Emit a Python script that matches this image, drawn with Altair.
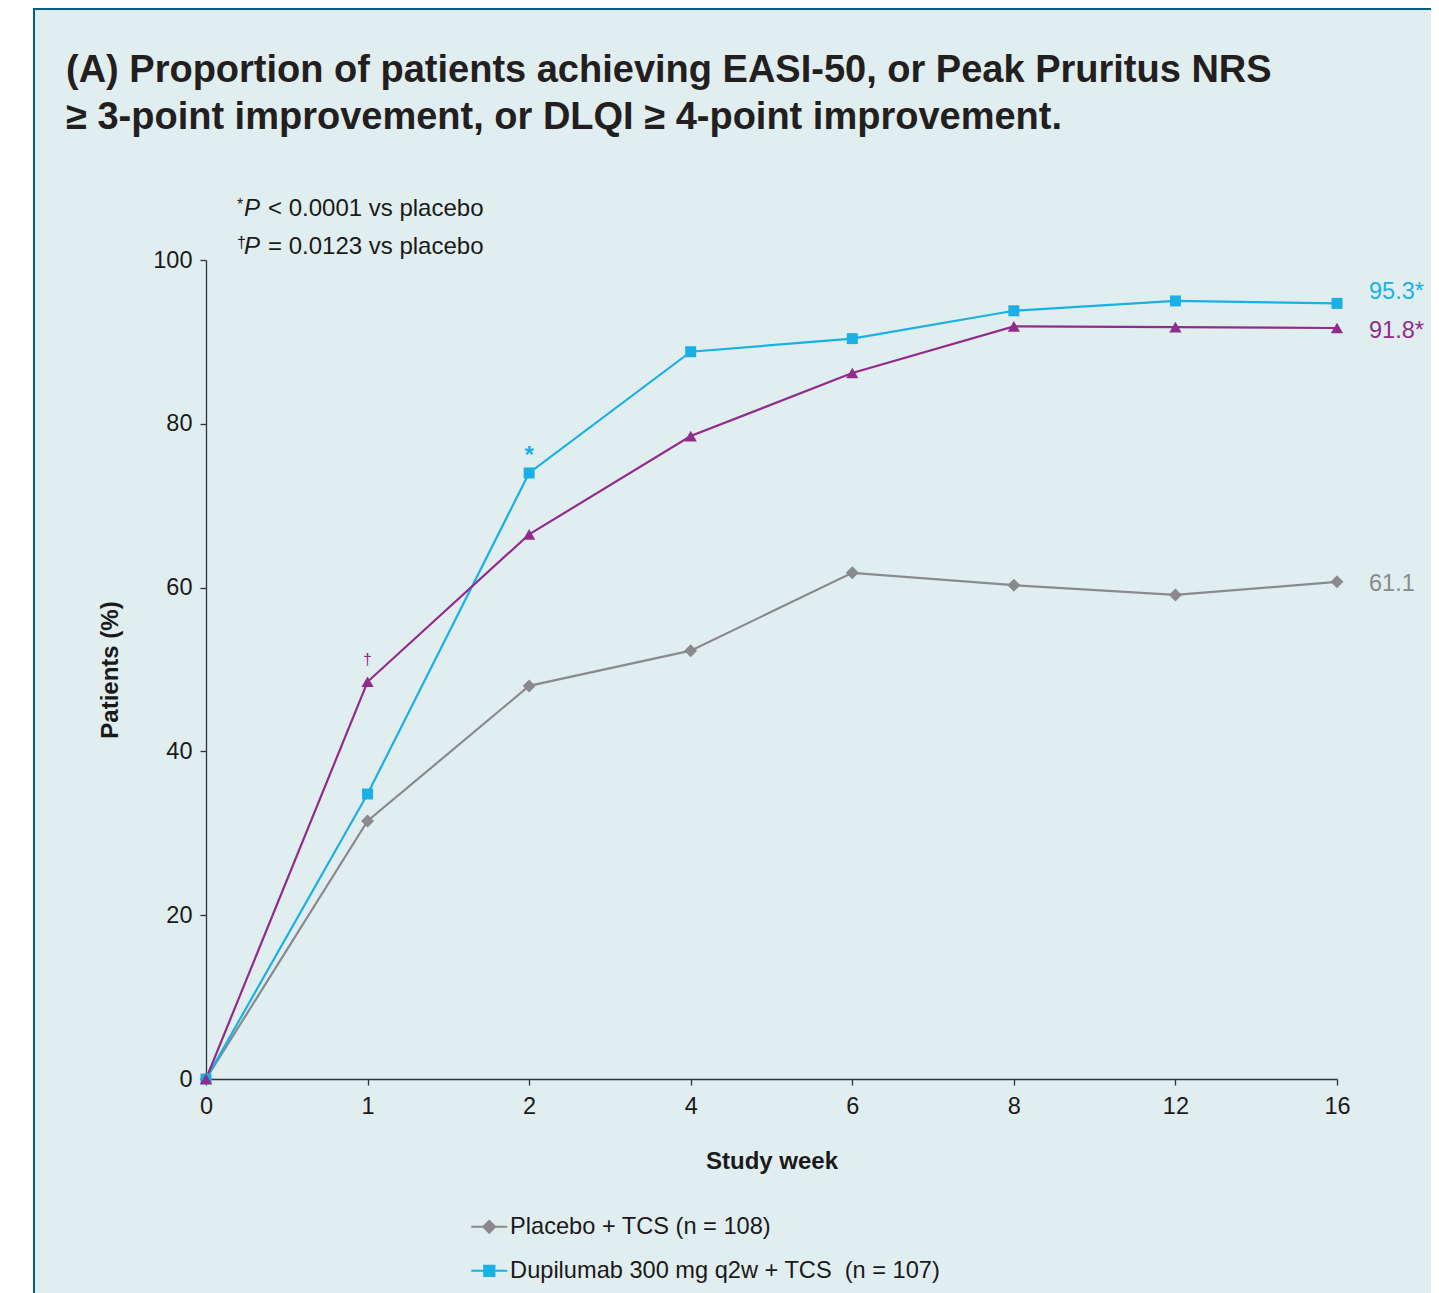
import altair as alt
import pandas as pd

FONT = "Liberation Sans"

weeks = ["0", "1", "2", "4", "6", "8", "12", "16"]
series_names = [
    "Placebo + TCS (n = 108)",
    "Dupilumab 300 mg q2w + TCS\u00a0\u00a0(n = 107)",
    "Dupilumab 300 mg qw + TCS",
]
placebo = [0, 31.5, 48.0, 52.3, 61.8, 60.3, 59.1, 60.7]
dupi_q2w = [0, 34.8, 74.0, 88.8, 90.4, 93.8, 95.0, 94.7]
dupi_qw = [0, 48.5, 66.5, 78.5, 86.2, 91.9, 91.8, 91.7]
series_values = [placebo, dupi_q2w, dupi_qw]
series_colors = ["#8a8a8c", "#1ab0e6", "#912b8c"]
series_shapes = ["diamond", "square", "triangle-up"]
series_sizes = [169, 121, 150]

end_labels = ["61.1", "95.3*", "91.8*"]
end_label_y = [60.4, 96.1, 91.3]

sig_marks = ["†", "*"]
sig_weeks = ["1", "2"]
sig_values = [48.5, 74.0]
sig_colors = ["#912b8c", "#1ab0e6"]

title_lines = [
    "(A) Proportion of patients achieving EASI-50, or Peak Pruritus NRS",
    "≥ 3-point improvement, or DLQI ≥ 4-point improvement.",
]

rows = []
for name, vals in zip(series_names, series_values):
    for w, v in zip(weeks, vals):
        rows.append({"series": name, "week": w, "value": v})
df = pd.DataFrame(rows)

xenc = alt.X("week:O", scale=alt.Scale(domain=weeks, type="point", padding=0),
             axis=alt.Axis(title="Study week", labelAngle=0, tickSize=6, labelPadding=9,
                           titlePadding=32, titleFontWeight="bold"))
yenc = alt.Y("value:Q", scale=alt.Scale(domain=[0, 100], nice=False, zero=True),
             axis=alt.Axis(title="Patients (%)", values=[0, 20, 40, 60, 80, 100], tickSize=6,
                           labelPadding=8, titlePadding=30, titleFontWeight="bold"))

base = alt.Chart(df)

# legend-only layer (no marks drawn)
legend_names = series_names[:2]
diamond_path = "M-2,-0.11H2V0.11H-2Z M0,-0.82L0.82,0L0,0.82L-0.82,0Z"
square_path = "M-2,-0.11H2V0.11H-2Z M-0.68,-0.68H0.68V0.68H-0.68Z"
leg = alt.Legend(orient="none", legendX=271.5, legendY=955, title=None, symbolSize=324,
                 symbolStrokeWidth=0, symbolOpacity=1, labelFont=FONT, labelFontSize=23.6,
                 labelColor="#1a1a1a", labelOffset=9, rowPadding=19, labelLimit=700)
legend_layer = base.transform_filter("false").mark_point(filled=True, opacity=1).encode(
    x=xenc, y=yenc,
    color=alt.Color("series:N", scale=alt.Scale(domain=legend_names, range=series_colors[:2]), legend=leg),
    shape=alt.Shape("series:N", scale=alt.Scale(domain=legend_names, range=[diamond_path, square_path]), legend=leg),
)

layers = [legend_layer]
for name, col in zip(series_names, series_colors):
    layers.append(base.transform_filter(alt.datum.series == name)
                  .mark_line(color=col, strokeWidth=2.2).encode(x=xenc, y=yenc))
for name, col, shp, sz in zip(series_names, series_colors, series_shapes, series_sizes):
    layers.append(base.transform_filter(alt.datum.series == name)
                  .mark_point(color=col, shape=shp, filled=True, opacity=1, size=sz)
                  .encode(x=xenc, y=yenc))

# end-of-line value labels
end_df = pd.DataFrame({"label": end_labels, "week": ["16"] * 3, "value": end_label_y,
                       "color": [series_colors[0], series_colors[1], series_colors[2]]})
layers.append(alt.Chart(end_df).mark_text(align="left", baseline="middle", dx=32, font=FONT,
                                          fontSize=23.5).encode(
    x=alt.X("week:O"), y=alt.Y("value:Q"), text="label:N",
    color=alt.Color("color:N", scale=None)))

# significance markers
sig_df = pd.DataFrame({"mark": sig_marks, "week": sig_weeks, "value": sig_values, "color": sig_colors})
layers.append(alt.Chart(sig_df.iloc[[1]]).mark_text(align="center", baseline="alphabetic", dy=-10,
                                                    font=FONT, fontSize=24, fontWeight="bold").encode(
    x="week:O", y="value:Q", text="mark:N", color=alt.Color("color:N", scale=None)))
layers.append(alt.Chart(sig_df.iloc[[0]]).mark_text(align="center", baseline="alphabetic", dy=-17,
                                                    font=FONT, fontSize=16).encode(
    x="week:O", y="value:Q", text="mark:N", color=alt.Color("color:N", scale=None)))

# p-value footnotes
note_sym = ["*", "†"]
note_text = ["< 0.0001 vs placebo", "= 0.0123 vs placebo"]
note_y = [105.37, 100.73]
note_df = pd.DataFrame({"sym": note_sym, "txt": note_text, "value": note_y, "week": ["0", "0"],
                        "p": ["P", "P"]})
layers.append(alt.Chart(note_df).mark_text(align="left", baseline="alphabetic", dx=31, dy=-6,
                                           font=FONT, fontSize=16, color="#1a1a1a").encode(
    x="week:O", y="value:Q", text="sym:N"))
layers.append(alt.Chart(note_df).mark_text(align="left", baseline="alphabetic", dx=38,
                                           font=FONT, fontSize=24, fontStyle="italic",
                                           color="#1a1a1a").encode(
    x="week:O", y="value:Q", text="p:N"))
layers.append(alt.Chart(note_df).mark_text(align="left", baseline="alphabetic", dx=62,
                                           font=FONT, fontSize=24, color="#1a1a1a").encode(
    x="week:O", y="value:Q", text="txt:N"))

# frame decorations: white margin strip, dark left border, dark top bar
deco = [
    alt.Chart(pd.DataFrame({"k": [0]})).mark_rect(color="#ffffff").encode(
        x=alt.value(-199), x2=alt.value(-173), y=alt.value(-253), y2=alt.value(1040)),
    alt.Chart(pd.DataFrame({"k": [0]})).mark_rect(color="#00607f").encode(
        x=alt.value(-173), x2=alt.value(-171), y=alt.value(-253), y2=alt.value(1040)),
    alt.Chart(pd.DataFrame({"k": [0]})).mark_rect(color="#00607f").encode(
        x=alt.value(-173), x2=alt.value(1226), y=alt.value(-253), y2=alt.value(-250)),
]

chart = alt.layer(*deco, *layers).properties(
    width=1131, height=819,
    autosize=alt.AutoSizeParams(type="none"),
    padding={"left": 198, "top": 252, "right": 94, "bottom": 214},
    title=alt.TitleParams(text=title_lines, anchor="start", frame="group", dx=-140, dy=188,
                          offset=58, fontSize=38, fontWeight="bold", font=FONT,
                          color="#231f20", lineHeight=47),
).configure(background="#e1eef0").configure_view(stroke=None).configure_axis(
    labelFont=FONT, titleFont=FONT, labelFontSize=23.5, titleFontSize=24, labelColor="#1a1a1a",
    titleColor="#1a1a1a", domainColor="#333333", tickColor="#333333", domainWidth=1.3,
    tickWidth=1.3, grid=False)

chart.save("out.html", embed_options={"renderer": "svg", "actions": False})
